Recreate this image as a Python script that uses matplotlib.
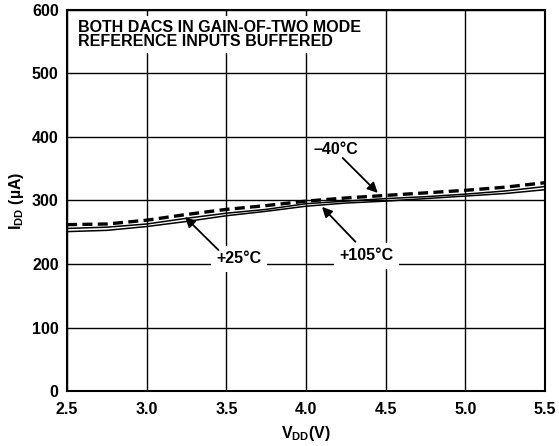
import matplotlib
matplotlib.use("Agg")
import matplotlib.pyplot as plt
import numpy as np

plt.rcParams['font.family'] = ['Liberation Sans', 'DejaVu Sans']
plt.rcParams['font.weight'] = 'bold'
plt.rcParams['mathtext.fontset'] = 'custom'
plt.rcParams['mathtext.rm'] = 'Liberation Sans:bold'
plt.rcParams['mathtext.bf'] = 'Liberation Sans:bold'

vdd = [2.5, 2.75, 3.0, 3.25, 3.5, 3.75, 4.0, 4.25, 4.5, 4.75, 5.0, 5.25, 5.5]
idd_m40 = [262, 263, 269, 278, 286, 292, 299, 304, 308, 312, 316, 321, 328]
idd_25 = [256, 258, 263, 272, 280, 286, 295, 299, 303, 306, 310, 315, 322]
idd_105 = [251, 253, 259, 267, 276, 283, 291, 296, 299, 303, 307, 311, 317]

x_ticks = [2.5, 3.0, 3.5, 4.0, 4.5, 5.0, 5.5]
y_ticks = [0, 100, 200, 300, 400, 500, 600]

fs = 11.5

fig = plt.figure(figsize=(5.59, 4.46), dpi=100)
ax = fig.add_axes([0.12, 0.1233, 0.855, 0.8543])

ax.plot(vdd, idd_105, color='black', lw=1.1)
ax.plot(vdd, idd_25, color='black', lw=1.1)
ax.plot(vdd, idd_m40, color='black', lw=2.4, dashes=(3, 1.6))

ax.set_xlim(2.5, 5.5)
ax.set_ylim(0, 600)
ax.set_xticks(x_ticks)
ax.set_xticklabels(['%.1f' % v for v in x_ticks])
ax.set_yticks(y_ticks)
ax.tick_params(length=0, labelsize=fs)
ax.tick_params(axis='x', pad=8)
ax.tick_params(axis='y', pad=6)
for lab in ax.get_xticklabels() + ax.get_yticklabels():
    lab.set_fontweight('bold')
ax.grid(True, color='black', lw=1.0)
ax.set_axisbelow(True)
for sp in ax.spines.values():
    sp.set_linewidth(1.5)

ax.set_xlabel(r'$\mathregular{V_{DD}}$(V)', fontsize=fs, fontweight='bold', labelpad=5)
ax.set_ylabel(r'$\mathregular{I_{DD}}$ (µA)', fontsize=fs, fontweight='bold', labelpad=4)

ax.text(2.57, 584, 'BOTH DACS IN GAIN-OF-TWO MODE\nREFERENCE INPUTS BUFFERED',
        fontsize=fs, fontweight='bold', va='top', ha='left', linespacing=0.92,
        bbox=dict(facecolor='white', edgecolor='none', pad=3))

arrow = dict(arrowstyle='-|>', color='black', lw=1.3, mutation_scale=15, shrinkA=0, shrinkB=0)
ax.text(4.19, 380, '–40°C', fontsize=fs, fontweight='bold', ha='center', va='center')
ax.annotate('', xy=(4.45, 312), xytext=(4.23, 367), arrowprops=arrow)
ax.text(3.58, 208, '+25°C', fontsize=fs, fontweight='bold', ha='center', va='center',
        bbox=dict(facecolor='white', edgecolor='none', pad=4))
ax.annotate('', xy=(3.24, 274), xytext=(3.45, 222), arrowprops=arrow)
ax.text(4.38, 213, '+105°C', fontsize=fs, fontweight='bold', ha='center', va='center',
        bbox=dict(facecolor='white', edgecolor='none', pad=4))
ax.annotate('', xy=(4.10, 290), xytext=(4.31, 235), arrowprops=arrow)

fig.savefig('out.png', dpi=100)
